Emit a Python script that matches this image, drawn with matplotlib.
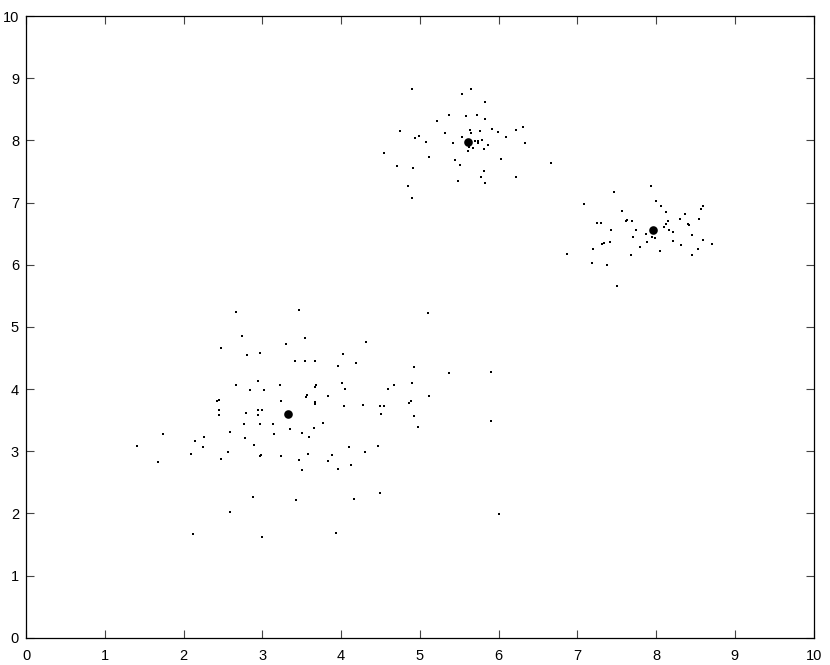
import matplotlib
matplotlib.use("Agg")
import matplotlib.pyplot as plt

plt.rcParams['font.family'] = ['Liberation Sans', 'DejaVu Sans']

# Cluster A (lower left)
xa = [2.66, 3.46, 2.74, 3.54, 2.48, 3.30, 2.81, 2.97, 3.41, 3.54, 3.67, 2.94, 2.67, 2.85,
      3.02, 3.22, 3.68, 3.67, 3.57, 3.55, 2.45, 2.42, 3.24, 3.67, 3.67, 2.45, 2.45, 2.79,
      2.95, 3.00, 2.95, 2.77, 2.97, 3.14, 3.77,
      5.10, 4.32, 4.03, 4.19, 3.96, 4.93, 5.37, 5.90, 4.01, 4.05, 4.67, 4.60, 4.90, 5.11,
      3.84, 4.89, 4.86, 4.04, 4.28, 4.49, 4.54, 4.51, 4.92, 5.90,
      3.35, 3.65, 1.74, 2.26, 2.15, 2.59, 2.78, 3.15, 3.50, 3.59, 1.41, 2.25, 2.90, 2.09,
      2.57, 2.98, 2.97, 3.24, 3.58, 1.68, 2.48, 3.47, 3.50, 2.88, 3.43, 2.59, 2.12, 3.00,
      4.98, 4.10, 4.47, 4.31, 3.88, 3.83, 4.13, 3.96, 4.49, 4.17, 6.01, 3.94]
ya = [5.24, 5.27, 4.86, 4.82, 4.66, 4.72, 4.55, 4.58, 4.45, 4.45, 4.45, 4.13, 4.06, 3.98,
      3.98, 4.06, 4.06, 4.03, 3.90, 3.87, 3.83, 3.80, 3.80, 3.79, 3.76, 3.67, 3.58, 3.62,
      3.66, 3.66, 3.58, 3.44, 3.43, 3.44, 3.46,
      5.23, 4.76, 4.56, 4.42, 4.37, 4.36, 4.26, 4.27, 4.10, 4.00, 4.07, 4.00, 4.10, 3.89,
      3.89, 3.81, 3.77, 3.73, 3.74, 3.72, 3.72, 3.60, 3.57, 3.49,
      3.36, 3.38, 3.28, 3.23, 3.17, 3.31, 3.22, 3.28, 3.29, 3.23, 3.08, 3.06, 3.10, 2.95,
      2.98, 2.94, 2.92, 2.93, 2.95, 2.83, 2.88, 2.86, 2.70, 2.26, 2.21, 2.02, 1.66, 1.62,
      3.39, 3.06, 3.09, 2.99, 2.94, 2.85, 2.77, 2.71, 2.32, 2.23, 1.99, 1.68]

# Cluster B (top middle)
xb = [4.90, 5.65, 5.53, 5.83, 5.37, 5.58, 5.72, 5.83, 5.22, 4.75, 5.64, 5.65, 5.76, 5.92,
      5.99, 6.22, 6.31, 5.32, 4.99, 4.94, 5.08, 5.53, 6.09, 5.70, 5.74, 5.79, 5.74, 5.42,
      5.87, 6.33, 5.63, 5.67, 5.82, 5.61, 4.54, 5.12, 5.45, 6.03, 5.51, 4.71, 4.91, 6.67,
      5.81, 5.78, 6.22, 5.83, 5.48, 4.85, 4.90]
yb = [8.82, 8.82, 8.75, 8.61, 8.40, 8.39, 8.40, 8.34, 8.31, 8.15, 8.17, 8.12, 8.15, 8.19,
      8.13, 8.16, 8.21, 8.12, 8.07, 8.03, 7.98, 8.05, 8.06, 7.99, 7.99, 8.00, 7.95, 7.95,
      7.93, 7.95, 7.90, 7.87, 7.86, 7.83, 7.79, 7.74, 7.69, 7.70, 7.60, 7.58, 7.56, 7.63,
      7.50, 7.41, 7.41, 7.32, 7.35, 7.27, 7.08]

# Cluster C (right)
xc = [7.94, 7.46, 8.00, 7.08, 8.06, 8.59, 8.57, 7.56, 8.13, 8.37, 7.63, 7.62, 7.69, 8.15,
      8.30, 8.55, 7.25, 7.30, 8.12, 8.41, 8.42, 8.10, 7.75, 7.43, 8.16, 8.22, 7.87, 8.46,
      7.71, 7.95, 7.99, 8.59, 7.42, 7.34, 7.31, 8.21, 7.89, 8.32, 8.71, 7.79, 7.20, 8.53,
      8.05, 6.87, 7.68, 8.46, 7.19, 7.37, 7.50]
yc = [7.27, 7.17, 7.03, 6.97, 6.94, 6.94, 6.90, 6.86, 6.84, 6.81, 6.72, 6.71, 6.70, 6.71,
      6.73, 6.73, 6.67, 6.67, 6.65, 6.65, 6.64, 6.61, 6.56, 6.56, 6.55, 6.53, 6.49, 6.48,
      6.45, 6.45, 6.43, 6.40, 6.37, 6.35, 6.34, 6.38, 6.37, 6.32, 6.34, 6.28, 6.26, 6.26,
      6.22, 6.17, 6.16, 6.15, 6.02, 6.00, 5.66]

# Centroids
cx = [3.32, 5.61, 7.96]
cy = [3.60, 7.98, 6.56]

xticks = list(range(0, 11))
yticks = list(range(0, 11))

fig = plt.figure(figsize=(8.30, 6.65), dpi=100)
ax = fig.add_axes([26/830, 1-637.7/665, (813.7-26)/830, (637.7-16)/665])

for xs, ys in [(xa, ya), (xb, yb), (xc, yc)]:
    ax.plot(xs, ys, linestyle='none', marker='s', markersize=1.5,
            markerfacecolor='black', markeredgewidth=0, color='black')
ax.plot(cx, cy, linestyle='none', marker='o', markersize=6.2,
        markerfacecolor='black', markeredgecolor='black', markeredgewidth=0)

ax.set_xlim(0, 10)
ax.set_ylim(0, 10)
ax.set_xticks(xticks)
ax.set_yticks(yticks)
ax.set_xticklabels([str(v) for v in xticks])
ax.set_yticklabels([str(v) for v in yticks])
ax.tick_params(axis='both', direction='in', length=5.5, width=0.8, labelsize=10.5,
               top=True, right=True, color='#444444')
ax.tick_params(axis='x', pad=8)
ax.tick_params(axis='y', pad=5)
for s in ax.spines.values():
    s.set_linewidth(0.9)
    s.set_color('black')

fig.savefig('out.png', dpi=100, facecolor='white')
